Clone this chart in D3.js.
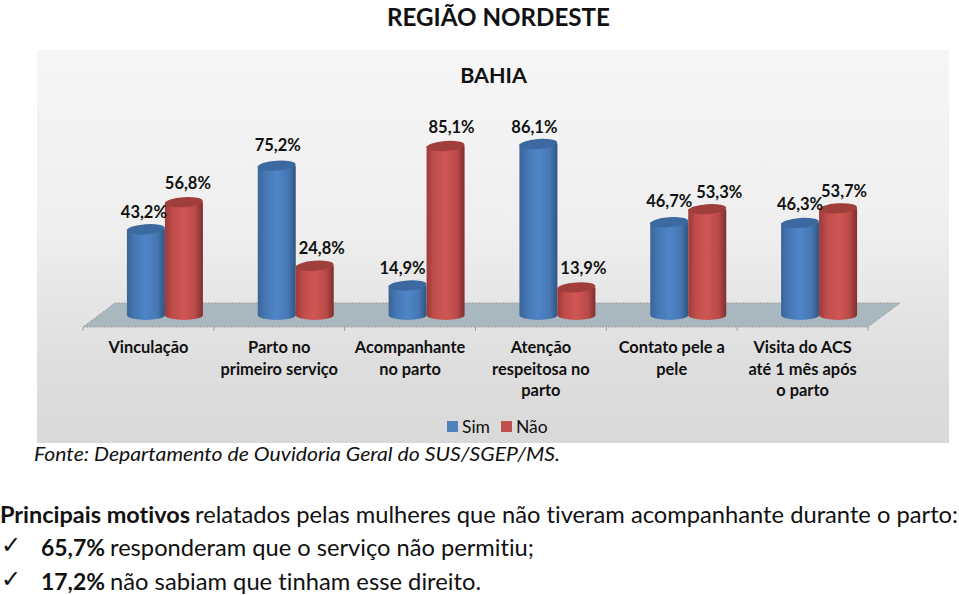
<!DOCTYPE HTML>
<html>
<head>
<meta charset="utf-8">
<script src="https://d3js.org/d3.v7.min.js"></script>
<style>
  body { margin: 0; background: white; }
  text { font-family: Lato, "Open Sans", sans-serif; fill: #111; font-variant-ligatures: none; }
</style>
</head>
<body>
<svg id="mysvg" width="959" height="595"></svg>
<script>
var categories = [
  ["Vinculação"],
  ["Parto no", "primeiro serviço"],
  ["Acompanhante", "no parto"],
  ["Atenção", "respeitosa no", "parto"],
  ["Contato pele a", "pele"],
  ["Visita do ACS", "até 1 mês após", "o parto"]
];
var sim = [43.2, 75.2, 14.9, 86.1, 46.7, 46.3];
var nao = [56.8, 24.8, 85.1, 13.9, 53.3, 53.7];
var seriesNames = ["Sim", "Não"];

// label nudges so they sit like the original (dx, dy from the bar top)
var simNudge = [[-2, -11], [1, -15], [-5, -11], [-4, -11], [0, -15], [0, -13]];
var naoNudge = [[4, -13], [7, -12], [6, -13], [7, -13], [12, -11], [6, -11]];

var fmt = function(v) { return v.toFixed(1).replace(".", ",") + "%"; };

var svg = d3.select("#mysvg");
var defs = svg.append("defs");

function gradient(id, stops, horizontal) {
  var g = defs.append("linearGradient").attr("id", id)
    .attr("x1", 0).attr("y1", 0)
    .attr("x2", horizontal ? 1 : 0).attr("y2", horizontal ? 0 : 1);
  stops.forEach(function(s) {
    g.append("stop").attr("offset", s[0]).attr("stop-color", s[1]);
  });
}
gradient("panelBg", [[0, "#f6f6f6"], [0.45, "#efefef"], [0.8, "#dedede"], [1, "#d9d9d9"]], false);
gradient("cylBlue", [[0, "#3a6598"], [0.2, "#4577b3"], [0.5, "#4f86c8"], [0.8, "#4577b3"], [1, "#30557f"]], true);
gradient("cylRed", [[0, "#9c3a38"], [0.2, "#c04d4b"], [0.5, "#cf5654"], [0.8, "#b94a48"], [1, "#7f2f2d"]], true);

// grey panel behind the chart
svg.append("rect")
  .attr("x", 37).attr("y", 50).attr("width", 912).attr("height", 393)
  .attr("fill", "url(#panelBg)");

var x = d3.scaleBand().domain(d3.range(categories.length)).range([83, 868]);
var y = d3.scaleLinear().domain([0, 100]).range([315, 116.4]);

// floor of the 3D chart
var floorDepth = 32, floorRise = 24;
var floorFront = y(0) + 12;
svg.append("path")
  .attr("d", d3.line()([
    [x.range()[0], floorFront],
    [x.range()[1], floorFront],
    [x.range()[1] + floorDepth, floorFront - floorRise],
    [x.range()[0] + floorDepth, floorFront - floorRise]
  ]) + "Z")
  .attr("fill", "#a9b8be")
  .attr("stroke", "#a3a3a3")
  .attr("stroke-width", 1)
  .attr("stroke-dasharray", "2,1");

// tick marks under the floor
var edges = x.domain().map(function(d) { return x(d); }).concat([x.range()[1]]);
svg.append("g").selectAll("line").data(edges).enter().append("line")
  .attr("x1", function(d) { return d; })
  .attr("x2", function(d) { return d; })
  .attr("y1", floorFront)
  .attr("y2", floorFront + 4)
  .attr("stroke", "#a0a0a0");

// cylinders
var barW = 38, ry = 5, groupShift = 16.5;

function drawSeries(values, side, fill, topColor, nudges) {
  var center = function(i) {
    return x(i) + x.bandwidth() / 2 + groupShift + side * barW / 2;
  };
  var g = svg.append("g").selectAll("g").data(values).enter().append("g");
  g.append("path")
    .attr("d", function(d, i) {
      var c = center(i), l = c - barW / 2, r = c + barW / 2;
      return "M" + l + "," + y(d) + "L" + l + "," + y(0) +
        "A" + (barW / 2) + "," + ry + " 0 0 0 " + r + "," + y(0) +
        "L" + r + "," + y(d) + "Z";
    })
    .attr("fill", "url(#" + fill + ")");
  g.append("ellipse")
    .attr("cx", function(d, i) { return center(i); })
    .attr("cy", function(d) { return y(d); })
    .attr("rx", barW / 2)
    .attr("ry", ry)
    .attr("transform", function(d, i) { return "rotate(-4 " + center(i) + " " + y(d) + ")"; })
    .attr("fill", topColor);
  return { center: center, nudges: nudges, values: values };
}

// blue first, red over it, labels last
var layers = [
  drawSeries(sim, -1, "cylBlue", "#3c699f", simNudge),
  drawSeries(nao, 1, "cylRed", "#a03e3c", naoNudge)
];
layers.forEach(function(s) {
  svg.append("g").selectAll("text").data(s.values).enter().append("text")
    .attr("x", function(d, i) { return s.center(i) + s.nudges[i][0]; })
    .attr("y", function(d, i) { return y(d) + s.nudges[i][1]; })
    .attr("text-anchor", "middle")
    .attr("font-size", 16.5)
    .attr("font-weight", 700)
    .text(fmt);
});

// category labels
var catLabels = svg.append("g").selectAll("text").data(categories).enter().append("text")
  .attr("text-anchor", "middle")
  .attr("font-size", 16.4)
  .attr("font-weight", 700)
  .attr("fill", "#222");
catLabels.selectAll("tspan").data(function(d, i) {
  return d.map(function(line, k) { return { line: line, k: k, i: i }; });
}).enter().append("tspan")
  .attr("x", function(d) { return x(d.i) + x.bandwidth() / 2; })
  .attr("y", function(d) { return 353 + d.k * 21.5; })
  .text(function(d) { return d.line; });

// legend
var legendColors = ["#4f81bd", "#c0504d"];
var legend = svg.append("g").selectAll("g").data(seriesNames).enter().append("g")
  .attr("transform", function(d, i) { return "translate(" + (447 + i * 54) + ",421)"; });
legend.append("rect").attr("width", 11).attr("height", 11)
  .attr("fill", function(d, i) { return legendColors[i]; });
legend.append("text").attr("x", 15).attr("y", 11.5)
  .attr("font-size", 17.5).attr("fill", "#333")
  .text(function(d) { return d; });

// titles
svg.append("text").attr("x", 498.5).attr("y", 26)
  .attr("text-anchor", "middle").attr("font-size", 25).attr("font-weight", 700)
  .attr("textLength", 223).attr("lengthAdjust", "spacingAndGlyphs")
  .text("REGIÃO NORDESTE");
svg.append("text").attr("x", 493.5).attr("y", 83)
  .attr("text-anchor", "middle").attr("font-size", 21.5).attr("font-weight", 700)
  .attr("fill", "#222")
  .text("BAHIA");

// source and the text block below
function put(str, xPos, yPos, width, size, bold, italic) {
  svg.append("text").attr("x", xPos).attr("y", yPos)
    .attr("font-size", size)
    .attr("font-weight", bold ? 700 : 400)
    .attr("font-style", italic ? "italic" : "normal")
    .attr("textLength", width).attr("lengthAdjust", "spacingAndGlyphs")
    .text(str);
}
put("Fonte: Departamento de Ouvidoria Geral do SUS/SGEP/MS.", 34, 461, 526, 19.5, false, true);
put("Principais motivos", 0, 523, 190, 23, true);
put("relatados pelas mulheres que não tiveram acompanhante durante o parto:", 195, 523, 763, 23);
put("65,7%", 41, 556, 64, 23, true);
put("responderam que o serviço não permitiu;", 110, 556, 424, 23);
put("17,2%", 41, 590, 64, 23, true);
put("não sabiam que tinham esse direito.", 110, 590, 371, 23);

svg.append("g").selectAll("text").data([556, 590]).enter().append("text")
  .attr("x", 1).attr("y", function(d) { return d - 3; })
  .attr("font-size", 24)
  .style("font-family", "'DejaVu Sans'")
  .text("✓");
</script>
</body>
</html>
